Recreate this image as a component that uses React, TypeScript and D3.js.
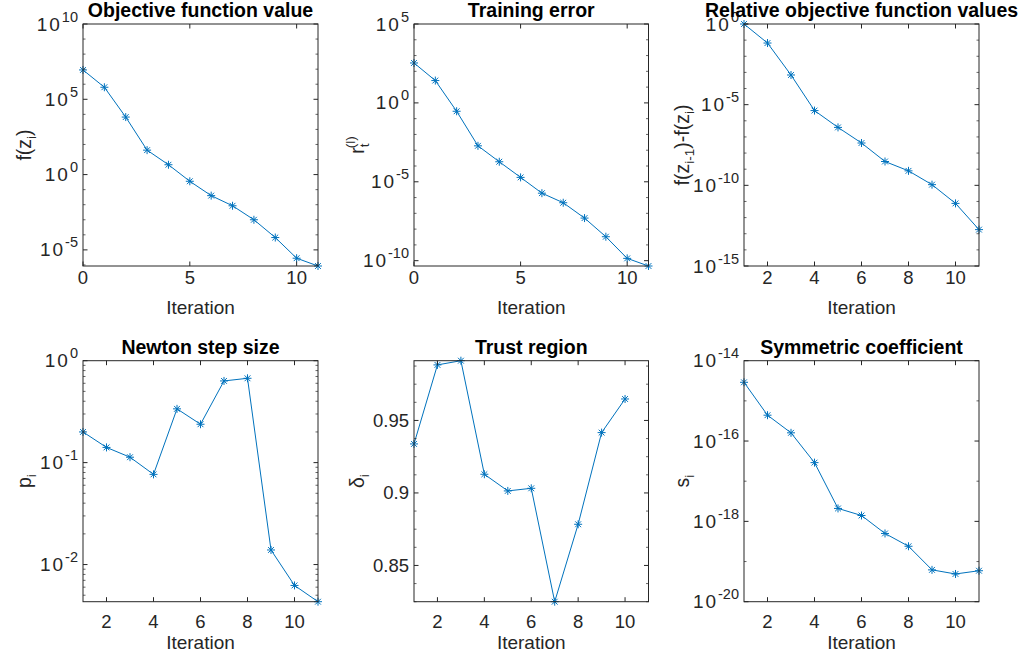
import React from "react";
import * as d3 from "d3";

// ---------- data ----------
const iterFrom0 = [0, 1, 2, 3, 4, 5, 6, 7, 8, 9, 10, 11];
const iterFrom1 = [1, 2, 3, 4, 5, 6, 7, 8, 9, 10, 11];
const iterTrust = [1, 2, 3, 4, 5, 6, 7, 8, 9, 10];

const objectiveValues = [8.9e6, 6.3e5, 6.6e3, 42, 4.5, 0.36, 0.04, 0.0085, 1.0e-3, 6.6e-5, 2.8e-6, 8.5e-7];
const trainingError = [339, 26, 0.295, 1.9e-3, 1.86e-4, 1.9e-5, 1.9e-6, 4.7e-7, 5.0e-8, 3.3e-9, 1.4e-10, 4.6e-11];
const relativeObjective = [1, 0.066, 6.9e-4, 4.3e-6, 3.9e-7, 4.2e-8, 3.0e-9, 7.9e-10, 1.1e-10, 7.6e-12, 1.8e-13];
const newtonStep = [0.2, 0.141, 0.113, 0.0767, 0.337, 0.238, 0.633, 0.672, 0.0139, 0.00624, 0.00432];
const trustRegion = [0.9338, 0.9883, 0.9912, 0.9129, 0.9014, 0.9032, 0.825, 0.8784, 0.9416, 0.9648];
const symmetricCoef = [2.9e-15, 4.4e-16, 1.6e-16, 2.9e-17, 2.1e-18, 1.4e-18, 5.0e-19, 2.4e-19, 6.2e-20, 4.9e-20, 5.9e-20];

const titles = [
  "Objective function value",
  "Training error",
  "Relative objective function values",
  "Newton step size",
  "Trust region",
  "Symmetric coefficient",
];

const xTicksA = [0, 5, 10];
const xTicksB = [2, 4, 6, 8, 10];
const yTicksObjective = [-5, 0, 5, 10];
const yTicksTraining = [-10, -5, 0, 5];
const yTicksRelative = [-15, -10, -5, 0];
const yTicksNewton = [-2, -1, 0];
const yTicksTrust = [0.85, 0.9, 0.95];
const yTicksSymmetric = [-20, -18, -16, -14];

// ---------- layout ----------
const COLS = [
  { x0: 83, x1: 318, labelX: 24 },
  { x0: 414, x1: 648.5, labelX: 357 },
  { x0: 744, x1: 979, labelX: 682 },
];
const ROWS = [
  { y0: 24, y1: 266, tickY: 277, xlabY: 307 },
  { y0: 360.7, y1: 601.7, tickY: 621.7, xlabY: 641.7 },
];

const BLUE = "#0072BD";
const AXC = "#262626";
const FONT = "'Liberation Sans', Arial, Helvetica, sans-serif";

type Panel = {
  title: string;
  xs: number[];
  ys: number[];
  xDomain: [number, number];
  yDomain: [number, number];
  log: boolean;
  xTicks: number[];
  yTicks: number[]; // exponents for log, values for linear
  minorStep?: number;
  logMinorFull?: boolean;
  ylabel: React.ReactNode;
  col: number;
  row: number;
};

const panels: Panel[] = [
  {
    title: titles[0], xs: iterFrom0, ys: objectiveValues, xDomain: [0, 11],
    yDomain: [d3.min(objectiveValues)!, 1e10], log: true, xTicks: xTicksA, yTicks: yTicksObjective,
    ylabel: (<>f(z<tspan dy={5} fontSize={13.5}>i</tspan><tspan dy={-5}>)</tspan></>), col: 0, row: 0,
  },
  {
    title: titles[1], xs: iterFrom0, ys: trainingError, xDomain: [0, 11],
    yDomain: [d3.min(trainingError)!, 1e5], log: true, xTicks: xTicksA, yTicks: yTicksTraining,
    ylabel: (<>r<tspan dy={5} fontSize={13.5}>t</tspan><tspan dx={-5} dy={-14} fontSize={13.5}>(l)</tspan></>), col: 1, row: 0,
  },
  {
    title: titles[2], xs: iterFrom1, ys: relativeObjective, xDomain: [1, 11],
    yDomain: [1e-15, 1], log: true, xTicks: xTicksB, yTicks: yTicksRelative,
    ylabel: (<>f(z<tspan dy={5} fontSize={13.5}>i-1</tspan><tspan dy={-5}>)-f(z</tspan><tspan dy={5} fontSize={13.5}>i</tspan><tspan dy={-5}>)</tspan></>), col: 2, row: 0,
  },
  {
    title: titles[3], xs: iterFrom1, ys: newtonStep, xDomain: [1, 11],
    yDomain: [d3.min(newtonStep)!, 1], log: true, xTicks: xTicksB, yTicks: yTicksNewton, logMinorFull: true,
    ylabel: (<>p<tspan dy={5} fontSize={13.5}>i</tspan></>), col: 0, row: 1,
  },
  {
    title: titles[4], xs: iterTrust, ys: trustRegion, xDomain: [1, 11],
    yDomain: [d3.min(trustRegion)!, d3.max(trustRegion)!], log: false, xTicks: xTicksB, yTicks: yTicksTrust, minorStep: 0.0125,
    ylabel: (<>δ<tspan dy={5} fontSize={13.5}>i</tspan></>), col: 1, row: 1,
  },
  {
    title: titles[5], xs: iterFrom1, ys: symmetricCoef, xDomain: [1, 11],
    yDomain: [1e-20, 1e-14], log: true, xTicks: xTicksB, yTicks: yTicksSymmetric,
    ylabel: (<>s<tspan dy={5} fontSize={13.5}>i</tspan></>), col: 2, row: 1,
  },
];

function Star({ x, y }: { x: number; y: number }) {
  const r = 4;
  const d = 2.9;
  return (
    <path
      d={`M${x - r},${y}H${x + r}M${x},${y - r}V${y + r}M${x - d},${y - d}L${x + d},${y + d}M${x - d},${y + d}L${x + d},${y - d}`}
      stroke={BLUE}
      strokeWidth={1}
      fill="none"
    />
  );
}

function PanelView({ p }: { p: Panel }) {
  const c = COLS[p.col];
  const r = ROWS[p.row];
  const x = d3.scaleLinear().domain(p.xDomain).range([c.x0, c.x1]);
  const y = p.log
    ? d3.scaleLog().domain(p.yDomain).range([r.y1, r.y0])
    : d3.scaleLinear().domain(p.yDomain).range([r.y1, r.y0]);
  const line = d3
    .line<number>()
    .x((_, i) => x(p.xs[i]))
    .y((v) => y(v));

  const TL = 4.5;
  const TLm = 2.5;
  const majorY = p.log ? p.yTicks.map((e) => Math.pow(10, e)) : p.yTicks;
  const [lo, hi] = p.yDomain;
  const minorY: number[] = [];
  if (p.log) {
    const eLo = Math.floor(Math.log10(lo));
    const eHi = Math.ceil(Math.log10(hi));
    for (let e = eLo; e <= eHi; e++) {
      if (p.logMinorFull) {
        for (let k = 2; k <= 9; k++) minorY.push(k * Math.pow(10, e));
      } else if (!p.yTicks.includes(e)) {
        minorY.push(Math.pow(10, e));
      }
    }
  } else if (p.minorStep) {
    const s = p.minorStep;
    for (let v = Math.ceil(lo / s) * s; v <= hi + 1e-9; v += s) {
      if (!p.yTicks.some((t) => Math.abs(t - v) < 1e-6)) minorY.push(v);
    }
  }
  const minorIn = minorY.filter((v) => v >= lo * (p.log ? 0.9999 : 1) && v <= hi * (p.log ? 1.0001 : 1));

  const cx = (c.x0 + c.x1) / 2;
  const cy = (r.y0 + r.y1) / 2;

  return (
    <g>
      <path d={line(p.ys) || ""} stroke={BLUE} strokeWidth={1} fill="none" />
      {p.ys.map((v, i) => (
        <Star key={i} x={x(p.xs[i])} y={y(v)} />
      ))}
      <rect x={c.x0} y={r.y0} width={c.x1 - c.x0} height={r.y1 - r.y0} fill="none" stroke={AXC} strokeWidth={1} />
      {/* x ticks */}
      {p.xTicks.map((t) => (
        <g key={"xt" + t}>
          <line x1={x(t)} x2={x(t)} y1={r.y1} y2={r.y1 - TL} stroke={AXC} />
          <line x1={x(t)} x2={x(t)} y1={r.y0} y2={r.y0 + TL} stroke={AXC} />
          <text x={x(t)} y={r.tickY + 6.5} textAnchor="middle" fontSize={18.5} fill={AXC} fontFamily={FONT}>
            {t}
          </text>
        </g>
      ))}
      {/* y major ticks */}
      {majorY.map((v, i) => (
        <g key={"yt" + i}>
          <line x1={c.x0} x2={c.x0 + TL} y1={y(v)} y2={y(v)} stroke={AXC} />
          <line x1={c.x1} x2={c.x1 - TL} y1={y(v)} y2={y(v)} stroke={AXC} />
          {p.log ? (
            <text x={c.x0 - 5} y={y(v) + 6.5} textAnchor="end" fontSize={19} fill={AXC} fontFamily={FONT}>
              <tspan letterSpacing={2}>10</tspan>
              <tspan dy={-9} fontSize={14.5}>{p.yTicks[i]}</tspan>
            </text>
          ) : (
            <text x={c.x0 - 5} y={y(v) + 6.5} textAnchor="end" fontSize={18.5} fill={AXC} fontFamily={FONT}>
              {p.yTicks[i]}
            </text>
          )}
        </g>
      ))}
      {/* y minor ticks */}
      {minorIn.map((v, i) => (
        <g key={"ym" + i}>
          <line x1={c.x0} x2={c.x0 + TLm} y1={y(v)} y2={y(v)} stroke={AXC} strokeWidth={0.7} />
          <line x1={c.x1} x2={c.x1 - TLm} y1={y(v)} y2={y(v)} stroke={AXC} strokeWidth={0.7} />
        </g>
      ))}
      <text x={cx} y={r.y0 - 7} textAnchor="middle" fontSize={19.5} fontWeight="bold" fill="#000" fontFamily={FONT}>
        {p.title}
      </text>
      <text x={cx} y={r.xlabY + 7} textAnchor="middle" fontSize={19} fill={AXC} fontFamily={FONT}>
        Iteration
      </text>
      <text
        transform={`translate(${c.labelX + 7},${cy}) rotate(-90)`}
        textAnchor="middle"
        fontSize={19.5}
        fill={AXC}
        fontFamily={FONT}
      >
        {p.ylabel}
      </text>
    </g>
  );
}

export default function App() {
  return (
    <div style={{ position: "absolute", left: 0, top: 0 }}>
      <svg width={1024} height={657} style={{ display: "block", background: "#fff" }}>
        <rect width={1024} height={657} fill="#fff" />
        {panels.map((p, i) => (
          <PanelView key={i} p={p} />
        ))}
      </svg>
    </div>
  );
}
